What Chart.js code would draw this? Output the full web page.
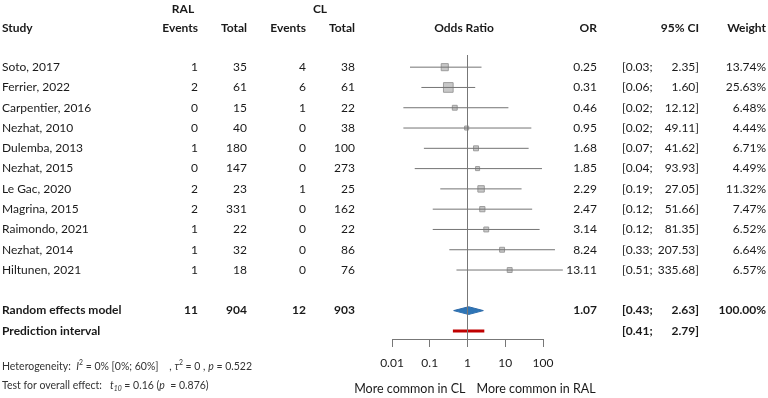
<!DOCTYPE html>
<html>
<head>
<meta charset="utf-8">
<script src="https://cdn.jsdelivr.net/npm/chart.js@4.4.1/dist/chart.umd.min.js"></script>
<style>
  html, body { margin: 0; padding: 0; background: #fff; }
  #wrap { width: 768px; height: 398px; position: relative; }
</style>
</head>
<body>
<div id="wrap"><canvas id="forestChart"></canvas></div>
<script>
const studies = ['Soto, 2017', 'Ferrier, 2022', 'Carpentier, 2016', 'Nezhat, 2010', 'Dulemba, 2013',
    'Nezhat, 2015', 'Le Gac, 2020', 'Magrina, 2015', 'Raimondo, 2021', 'Nezhat, 2014', 'Hiltunen, 2021'];
const ralEvents = [1, 2, 0, 0, 1, 0, 2, 2, 1, 1, 1];
const ralTotal = [35, 61, 15, 40, 180, 147, 23, 331, 22, 32, 18];
const clEvents = [4, 6, 1, 0, 0, 0, 1, 0, 0, 0, 0];
const clTotal = [38, 61, 22, 38, 100, 273, 25, 162, 22, 86, 76];
const oddsRatio = [0.25, 0.31, 0.46, 0.95, 1.68, 1.85, 2.29, 2.47, 3.14, 8.24, 13.11];
const ciLow = [0.03, 0.06, 0.02, 0.02, 0.07, 0.04, 0.19, 0.12, 0.12, 0.33, 0.51];
const ciHigh = [2.35, 1.60, 12.12, 49.11, 41.62, 93.93, 27.05, 51.66, 81.35, 207.53, 335.68];
const weights = [13.74, 25.63, 6.48, 4.44, 6.71, 4.49, 11.32, 7.47, 6.52, 6.64, 6.57];

const pooledCounts = [11, 904, 12, 903];
const pooledOR = [1.07, 0.43, 2.63];
const predInterval = [0.41, 2.79];

const xTicks = [0.01, 0.1, 1, 10, 100];
const xTickLabels = ['0.01', '0.1', '1', '10', '100'];

const FONT = 'Lato, "Open Sans", sans-serif';
const pooledRow = studies.length + 1;
const predRow = studies.length + 2;
const yMin = -0.6, yMax = 13.4;

// one short line per study for the confidence interval
const ciDatasets = studies.map((s, i) => ({
    data: [{ x: ciLow[i], y: i }, { x: ciHigh[i], y: i }],
    showLine: true,
    borderColor: '#747474',
    borderWidth: 1,
    pointRadius: 0,
    clip: false
}));

const datasets = [
    {
        // line of no effect
        data: [{ x: 1, y: yMin }, { x: 1, y: yMax }],
        showLine: true,
        borderColor: '#777',
        borderWidth: 1,
        pointRadius: 0,
        clip: false
    },
    ...ciDatasets,
    {
        data: oddsRatio.map((v, i) => ({ x: v, y: i })),
        pointStyle: 'rect',
        pointRadius: weights.map(w => 1.35 * Math.sqrt(w)),
        backgroundColor: '#c8c8c8',
        borderColor: '#9c9c9c',
        borderWidth: 1,
        clip: false
    },
    {
        data: oddsRatio.map((v, i) => ({ x: v, y: i })),
        pointStyle: 'circle',
        pointRadius: 1.5,
        backgroundColor: '#4a4a4a',
        borderWidth: 0,
        clip: false
    },
    {
        // diamond, upper half
        data: [{ x: pooledOR[1], y: pooledRow }, { x: pooledOR[0], y: pooledRow - 0.19 }, { x: pooledOR[2], y: pooledRow }],
        showLine: true,
        borderColor: '#2f6aa8',
        borderWidth: 1,
        backgroundColor: '#2e75b6',
        fill: '+1',
        pointRadius: 0
    },
    {
        // diamond, lower half
        data: [{ x: pooledOR[1], y: pooledRow }, { x: pooledOR[0], y: pooledRow + 0.19 }, { x: pooledOR[2], y: pooledRow }],
        showLine: true,
        borderColor: '#2f6aa8',
        borderWidth: 1,
        pointRadius: 0
    },
    {
        data: [{ x: predInterval[0], y: predRow }, { x: predInterval[1], y: predRow }],
        showLine: true,
        borderColor: '#c00000',
        borderWidth: 3,
        pointRadius: 0
    }
];

// draws a run of pieces: n = normal, i = italic, sup / sub = small raised / lowered
function drawRich(ctx, pieces, x, y, size) {
    ctx.textAlign = 'left';
    pieces.forEach(([t, kind]) => {
        let fs = size, dy = 0, style = '';
        if (kind === 'i') style = 'italic ';
        if (kind === 'sup') { fs = size * 0.65; dy = -size * 0.38; }
        if (kind === 'sub') { fs = size * 0.65; dy = size * 0.3; style = 'italic '; }
        ctx.font = style + fs + 'px ' + FONT;
        ctx.fillText(t, x, y + dy);
        x += ctx.measureText(t).width;
    });
}

const tablePlugin = {
    id: 'forestTable',
    afterDraw(chart) {
        const ctx = chart.ctx;
        const ys = chart.scales.y;
        const xs = chart.scales.x;
        ctx.save();
        ctx.fillStyle = '#1a1a1a';
        ctx.textBaseline = 'middle';

        const text = (t, x, y, align, bold, size) => {
            ctx.font = (bold ? 'bold ' : '') + (size || 12) + 'px ' + FONT;
            ctx.textAlign = align;
            ctx.fillText(t, x, y);
        };

        // headers
        text('RAL', 183, 9, 'center', true);
        text('CL', 320, 9, 'center', true);
        text('Study', 2, 28, 'left', true);
        text('Events', 198, 28, 'right', true);
        text('Total', 247, 28, 'right', true);
        text('Events', 306, 28, 'right', true);
        text('Total', 355, 28, 'right', true);
        text('Odds Ratio', 464, 28, 'center', true);
        text('OR', 597, 28, 'right', true);
        text('95% CI', 699, 28, 'right', true);
        text('Weight', 766, 28, 'right', true);

        studies.forEach((s, i) => {
            const y = ys.getPixelForValue(i);
            text(s, 2, y, 'left');
            text(String(ralEvents[i]), 198, y, 'right');
            text(String(ralTotal[i]), 247, y, 'right');
            text(String(clEvents[i]), 306, y, 'right');
            text(String(clTotal[i]), 355, y, 'right');
            text(oddsRatio[i].toFixed(2), 597, y, 'right');
            text('[' + ciLow[i].toFixed(2) + ';', 622, y, 'left');
            text(ciHigh[i].toFixed(2) + ']', 699, y, 'right');
            text(weights[i].toFixed(2) + '%', 766, y, 'right');
        });

        let y = ys.getPixelForValue(pooledRow);
        text('Random effects model', 2, y, 'left', true);
        text(String(pooledCounts[0]), 198, y, 'right', true);
        text(String(pooledCounts[1]), 247, y, 'right', true);
        text(String(pooledCounts[2]), 306, y, 'right', true);
        text(String(pooledCounts[3]), 355, y, 'right', true);
        text(pooledOR[0].toFixed(2), 597, y, 'right', true);
        text('[' + pooledOR[1].toFixed(2) + ';', 622, y, 'left', true);
        text(pooledOR[2].toFixed(2) + ']', 699, y, 'right', true);
        text('100.00%', 766, y, 'right', true);

        y = ys.getPixelForValue(predRow);
        text('Prediction interval', 2, y, 'left', true);
        text('[' + predInterval[0].toFixed(2) + ';', 622, y, 'left', true);
        text(predInterval[1].toFixed(2) + ']', 699, y, 'right', true);

        ctx.fillStyle = '#333';
        drawRich(ctx, [['Heterogeneity:  ', 'n'], ['I', 'i'], ['2', 'sup'], [' = 0% [0%; 60%]    , ', 'n'],
            ['\u03c4', 'i'], ['2', 'sup'], [' = 0 , ', 'n'], ['p', 'i'], [' = 0.522', 'n']], 2, 367, 10.5);
        drawRich(ctx, [['Test for overall effect:   ', 'n'], ['t', 'i'], ['10', 'sub'], [' = 0.16 (', 'n'],
            ['p', 'i'], ['  = 0.876)', 'n']], 2, 386, 10.5);

        ctx.fillStyle = '#1a1a1a';
        const one = xs.getPixelForValue(1);
        text('More common in CL', one - 2, 389, 'right', false, 12.5);
        text('More common in RAL', one + 9, 389, 'left', false, 12.5);
        ctx.restore();
    }
};

new Chart(document.getElementById('forestChart').getContext('2d'), {
    type: 'scatter',
    data: { datasets },
    options: {
        responsive: true,
        maintainAspectRatio: false,
        animation: false,
        layout: { padding: { left: 392, right: 225, top: 55, bottom: 0 } },
        scales: {
            x: {
                type: 'logarithmic',
                min: 0.01,
                max: 100,
                grid: { display: true, drawOnChartArea: false, drawTicks: true, tickLength: 8, color: '#777' },
                border: { display: true, color: '#777', width: 1 },
                afterBuildTicks: scale => { scale.ticks = xTicks.map(v => ({ value: v })); },
                afterFit: scale => { scale.height = 59; },
                ticks: {
                    padding: 9,
                    color: '#1a1a1a',
                    font: { family: FONT, size: 12 },
                    maxRotation: 0,
                    callback: v => xTickLabels[xTicks.indexOf(v)]
                }
            },
            y: {
                type: 'linear',
                min: yMin,
                max: yMax,
                reverse: true,
                display: false
            }
        },
        plugins: {
            legend: { display: false },
            tooltip: { enabled: false }
        }
    },
    plugins: [tablePlugin]
});
</script>
</body>
</html>
